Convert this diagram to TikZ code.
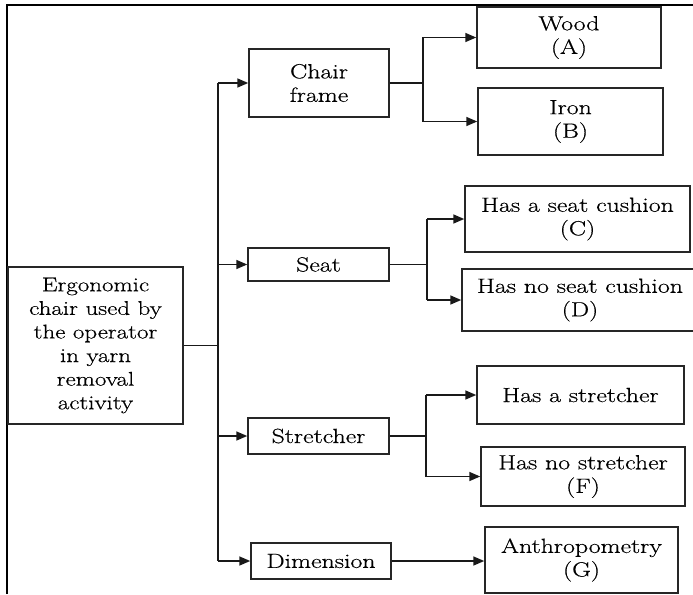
\documentclass[tikz,border=0pt]{standalone}
\usepackage{fontspec}
\setmainfont{Latin Modern Roman}[FakeStretch=1.17,FakeBold=0.5]
\newfontfamily\widefont{Latin Modern Roman}[FakeStretch=1.26,FakeBold=0.5]
\usetikzlibrary{arrows.meta}
\begin{document}
\begin{tikzpicture}[x=1pt,y=-1pt,
  box/.style={draw=black!85, line width=1.5pt, align=center, inner sep=0pt,
    font=\widefont\fontsize{20.5}{23.5}\selectfont},
  rootbox/.style={box, font=\widefont\fontsize{19.8}{23.6}\selectfont},
  link/.style={draw=black!90, line width=1.6pt},
  arr/.style={link, -{Triangle[length=11pt,width=9pt]}}]
\useasboundingbox (0,0) rectangle (693,594);
% frame
\coordinate (fb) at (7,594);
\coordinate (ftl) at (7,5);
\coordinate (ftr) at (693,5);
\draw[line width=1.8pt] (fb) -- (ftl) -- (ftr);
% nodes
\node[rootbox, minimum width=175, minimum height=157] (root) at (95.5,345.5)
  {Ergonomic\\chair used by\\the operator\\in yarn\\removal\\activity};
\node[box, minimum width=140, minimum height=68] (cf) at (319,83) {Chair\\frame};
\node[box, minimum width=141, minimum height=33] (seat) at (318.5,264.5) {Seat};
\node[box, minimum width=141, minimum height=36] (str) at (318.5,436) {Stretcher};
\node[box, minimum width=140, minimum height=36] (dim) at (321,561) {Dimension};
\node[box, minimum width=184, minimum height=61] (A) at (569,37.5) {Wood\\(A)};
\node[box, minimum width=185, minimum height=67] (B) at (570.5,121.5) {Iron\\(B)};
\node[box, minimum width=225, minimum height=66] (C) at (577.5,219) {Has a seat cushion\\(C)};
\node[box, minimum width=236, minimum height=62] (D) at (580,300) {Has no seat cushion\\(D)};
\node[box, minimum width=207, minimum height=58] (E) at (580.5,395) {Has a stretcher};
\node[box, minimum width=204, minimum height=59] (F) at (583,476.5) {Has no stretcher\\(F)};
\node[box, minimum width=193, minimum height=66] (G) at (581.5,560) {Anthropometry\\(G)};
% trunk
\coordinate (t1) at (218,83);
\coordinate (t4) at (218,561);
\draw[link] (t1) -- (t4);
\draw[link] (root.east) -- (root.east -| t1);
\draw[arr] (t1) -- (cf.west);
\draw[arr] (seat.west -| t1) -- (seat.west);
\draw[arr] (str.west -| t1) -- (str.west);
\draw[arr] (t4) -- (dim.west);
% chair frame branch
\coordinate (j1) at (423,83);
\draw[link] (cf.east) -- (j1);
\draw[link] (j1 |- A.west) -- (j1 |- B.west);
\draw[arr] (j1 |- A.west) -- (A.west);
\draw[arr] (j1 |- B.west) -- (B.west);
% seat branch
\coordinate (j2) at (427,264.5);
\draw[link] (seat.east) -- (j2);
\draw[link] (j2 |- C.west) -- (j2 |- D.west);
\draw[arr] (j2 |- C.west) -- (C.west);
\draw[arr] (j2 |- D.west) -- (D.west);
% stretcher branch
\coordinate (j3) at (426,436);
\draw[link] (str.east) -- (j3);
\draw[link] (j3 |- E.west) -- (j3 |- F.west);
\draw[arr] (j3 |- E.west) -- (E.west);
\draw[arr] (j3 |- F.west) -- (F.west);
% dimension
\draw[arr] (dim.east) -- (dim.east -| G.west);
\end{tikzpicture}
\end{document}
